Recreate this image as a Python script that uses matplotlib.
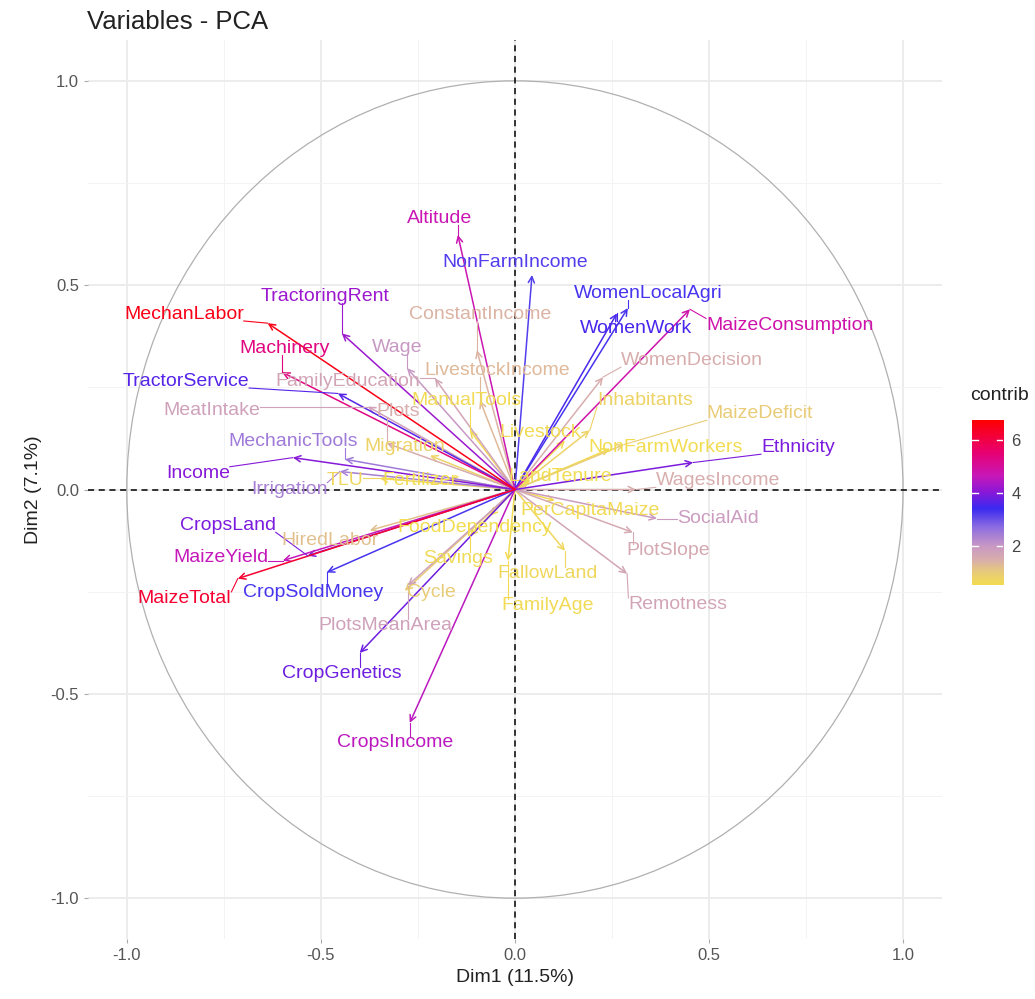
import numpy as np
import matplotlib
matplotlib.use('Agg')
import matplotlib.pyplot as plt
from matplotlib.colors import LinearSegmentedColormap, Normalize
from matplotlib.patches import Circle

plt.rcParams['font.family'] = ['Liberation Sans', 'DejaVu Sans']
plt.rcParams['axes.unicode_minus'] = False

# Coordonnées des variables (Dim1, Dim2) et contributions
variables = ['MechanLabor', 'TractoringRent', 'Machinery', 'TractorService', 'FamilyEducation',
             'Wage', 'MeatIntake', 'Plots', 'MechanicTools', 'Income',
             'Irrigation', 'CropsLand', 'MaizeYield', 'MaizeTotal', 'CropSoldMoney',
             'HiredLabor', 'PlotsMeanArea', 'Cycle', 'CropGenetics', 'CropsIncome',
             'Savings', 'FoodDependency', 'FamilyAge', 'FallowLand', 'Remotness',
             'PlotSlope', 'SocialAid', 'PerCapitaMaize', 'WagesIncome', 'Ethnicity',
             'NonFarmWorkers', 'MaizeDeficit', 'Inhabitants', 'WomenDecision', 'WomenWork',
             'WomenLocalAgri', 'MaizeConsumption', 'NonFarmIncome', 'Altitude', 'ConstantIncome',
             'LivestockIncome', 'ManualTools', 'Livestock', 'Migration', 'TLU',
             'Fertilizer', 'LandTenure']
dim1 = [-0.637, -0.446, -0.600, -0.456, -0.206,
        -0.278, -0.379, -0.330, -0.438, -0.572,
        -0.451, -0.534, -0.598, -0.714, -0.485,
        -0.374, -0.276, -0.284, -0.400, -0.271,
        -0.116, -0.064, -0.018, 0.129, 0.289,
        0.304, 0.366, 0.103, 0.312, 0.459,
        0.245, 0.281, 0.193, 0.227, 0.263,
        0.291, 0.451, 0.044, -0.147, -0.098,
        -0.090, -0.116, 0.129, -0.219, -0.348,
        -0.168, 0.039]
dim2 = [0.407, 0.382, 0.287, 0.235, 0.272,
        0.297, 0.203, 0.113, 0.074, 0.078,
        0.044, -0.162, -0.174, -0.218, -0.203,
        -0.100, -0.235, -0.248, -0.400, -0.571,
        -0.113, -0.064, -0.174, -0.150, -0.206,
        -0.105, -0.071, -0.027, 0.000, 0.066,
        0.100, 0.110, 0.145, 0.275, 0.431,
        0.444, 0.441, 0.525, 0.623, 0.341,
        0.218, 0.145, 0.120, 0.083, 0.027,
        0.027, 0.022]
contrib = [6.5, 4.2, 5.3, 3.6, 1.7,
           2.0, 1.8, 1.5, 2.5, 4.0,
           2.4, 3.9, 4.6, 6.2, 3.3,
           1.2, 1.8, 1.0, 3.8, 4.5,
           0.6, 0.5, 0.6, 0.7, 1.7,
           1.6, 1.9, 0.6, 1.5, 3.9,
           0.5, 1.0, 0.8, 1.5, 3.5,
           3.3, 4.8, 3.2, 4.7, 1.4,
           1.3, 0.6, 0.6, 0.8, 0.7,
           0.5, 0.4]

# Décalage des étiquettes par rapport à la pointe de la flèche (mise en page)
label_offset = {
    'MechanLabor': (-0.216, 0.022), 'TractoringRent': (-0.044, 0.091), 'Machinery': (0.007, 0.059),
    'TractorService': (-0.392, 0.030), 'FamilyEducation': (-0.224, -0.007), 'Wage': (-0.026, 0.051),
    'MeatIntake': (-0.402, -0.009), 'Plots': (0.028, 0.078), 'MechanicTools': (-0.134, 0.044),
    'Income': (-0.245, -0.039), 'Irrigation': (-0.131, -0.044), 'CropsLand': (-0.206, 0.074),
    'MaizeYield': (-0.160, 0.007), 'MaizeTotal': (-0.137, -0.049), 'CropSoldMoney': (-0.036, -0.049),
    'HiredLabor': (-0.103, -0.025), 'PlotsMeanArea': (-0.059, -0.098), 'Cycle': (0.070, -0.004),
    'CropGenetics': (-0.046, -0.051), 'CropsIncome': (-0.038, -0.049), 'Savings': (-0.031, -0.056),
    'FoodDependency': (-0.039, -0.029), 'FamilyAge': (0.103, -0.110), 'FallowLand': (-0.044, -0.056),
    'Remotness': (0.131, -0.076), 'PlotSlope': (0.090, -0.045), 'SocialAid': (0.157, 0.0),
    'PerCapitaMaize': (0.090, -0.024), 'WagesIncome': (0.211, 0.022), 'Ethnicity': (0.270, 0.037),
    'NonFarmWorkers': (0.142, 0.003), 'MaizeDeficit': (0.350, 0.076), 'Inhabitants': (0.142, 0.073),
    'WomenDecision': (0.229, 0.041), 'WomenWork': (0.049, -0.036), 'WomenLocalAgri': (0.052, 0.036),
    'MaizeConsumption': (0.257, -0.039), 'NonFarmIncome': (-0.044, 0.031), 'Altitude': (-0.046, 0.041),
    'ConstantIncome': (0.008, 0.088), 'LivestockIncome': (0.044, 0.074), 'ManualTools': (-0.008, 0.073),
    'Livestock': (-0.065, 0.020), 'Migration': (-0.065, 0.022), 'TLU': (-0.090, -0.005),
    'Fertilizer': (-0.077, -0.005), 'LandTenure': (0.077, 0.010),
}

cmin, cmax = 0.54, 6.75
cmap = LinearSegmentedColormap.from_list('contrib', [
    (0.00, '#F2DC50'), (0.08, '#E8CA7C'), (0.15, '#D9AEAC'), (0.235, '#C898C4'),
    (0.35, '#8C6CE2'), (0.46, '#3A2AF0'), (0.56, '#8A18D8'), (0.66, '#C818B8'),
    (0.80, '#E80070'), (1.00, '#FF0000')])
norm = Normalize(cmin, cmax)

fig = plt.figure(figsize=(10.35, 9.99), dpi=100)
ax = fig.add_axes([0.085, 0.06, 0.825, 0.9])

ax.set_xlim(-1.1, 1.1)
ax.set_ylim(-1.1, 1.1)
ax.set_xticks([-1.0, -0.5, 0.0, 0.5, 1.0])
ax.set_yticks([-1.0, -0.5, 0.0, 0.5, 1.0])
ax.set_xticks([-0.75, -0.25, 0.25, 0.75], minor=True)
ax.set_yticks([-0.75, -0.25, 0.25, 0.75], minor=True)
ax.grid(True, which='major', color='#EBEBEB', lw=1.3)
ax.grid(True, which='minor', color='#F3F3F3', lw=0.7)
ax.set_axisbelow(True)
for s in ax.spines.values():
    s.set_visible(False)
ax.tick_params(which='major', length=3, color='#AAAAAA', labelsize=12, labelcolor='#555555')
ax.tick_params(which='minor', length=0)

ax.add_patch(Circle((0, 0), 1.0, fill=False, ec='#B0B0B0', lw=0.9, zorder=1))
ax.axhline(0, color='black', lw=1.1, ls=(0, (4, 3)), zorder=2)
ax.axvline(0, color='black', lw=1.1, ls=(0, (4, 3)), zorder=2)

# Flèches, triées pour que les plus fortes contributions soient au-dessus
order = np.argsort(contrib)
texts = []
for i in order:
    col = cmap(norm(contrib[i]))
    ax.annotate('', xy=(dim1[i], dim2[i]), xytext=(0, 0),
                arrowprops=dict(arrowstyle='->', color=col, lw=1.1,
                                shrinkA=0, shrinkB=0, mutation_scale=11),
                zorder=3)
    dx, dy = label_offset[variables[i]]
    t = ax.text(dim1[i] + dx, dim2[i] + dy, variables[i], color=col, fontsize=14,
                ha='center', va='center', zorder=4)
    texts.append((t, i, col))

# Segments reliant les étiquettes éloignées à leur flèche (style ggrepel)
fig.canvas.draw()
inv = ax.transData.inverted()
for t, i, col in texts:
    bb = t.get_window_extent().expanded(1.0, 0.8)
    px, py = ax.transData.transform((dim1[i], dim2[i]))
    cx = min(max(px, bb.x0), bb.x1)
    cy = min(max(py, bb.y0), bb.y1)
    if np.hypot(px - cx, py - cy) > 6:
        ex, ey = inv.transform((cx, cy))
        ax.plot([ex, dim1[i]], [ey, dim2[i]], color=col, lw=0.8, zorder=3)

ax.set_xlabel('Dim1 (11.5%)', fontsize=14, color='#222222', labelpad=4)
ax.set_ylabel('Dim2 (7.1%)', fontsize=14, color='#222222', labelpad=6)
fig.text(0.084, 0.978, 'Variables - PCA', fontsize=18.5, color='#222222', ha='left', va='center')

# Légende de couleur
cax = fig.add_axes([0.939, 0.414, 0.030, 0.166])
grad = np.linspace(cmin, cmax, 256).reshape(-1, 1)
cax.imshow(grad, aspect='auto', cmap=cmap, norm=norm, origin='lower',
           extent=[0, 1, cmin, cmax])
cax.set_xlim(0, 1)
cax.set_ylim(cmin, cmax)
cax.set_xticks([])
cax.yaxis.tick_right()
cax.set_yticks([2, 4, 6])
cax.tick_params(axis='y', length=0, labelsize=12, labelcolor='#444444', pad=6)
for v in [2, 4, 6]:
    cax.plot([0, 0.2], [v, v], color='white', lw=1)
    cax.plot([0.8, 1], [v, v], color='white', lw=1)
for s in cax.spines.values():
    s.set_visible(False)
fig.text(0.937, 0.596, 'contrib', fontsize=14, color='#222222', ha='left', va='bottom')

fig.savefig('out.png', dpi=100)
